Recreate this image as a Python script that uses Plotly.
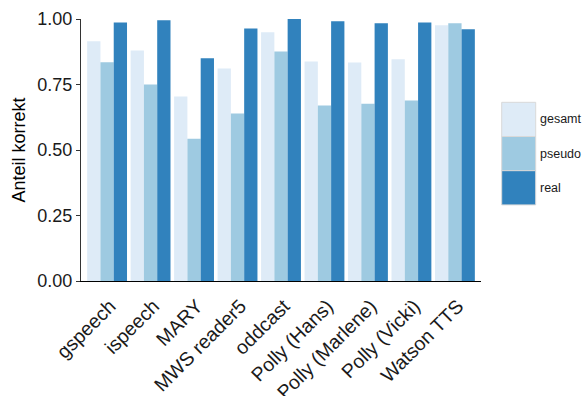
import plotly.graph_objects as go

categories = ["gspeech", "ispeech", "MARY", "MWS reader5", "oddcast",
              "Polly (Hans)", "Polly (Marlene)", "Polly (Vicki)", "Watson TTS"]
gesamt = [0.915, 0.880, 0.704, 0.811, 0.949, 0.838, 0.834, 0.846, 0.976]
pseudo = [0.835, 0.750, 0.543, 0.639, 0.876, 0.670, 0.677, 0.689, 0.984]
real = [0.987, 0.995, 0.850, 0.964, 1.000, 0.991, 0.984, 0.987, 0.961]
series_names = ["gesamt", "pseudo", "real"]
colors = ["#deebf7", "#9ecae1", "#3182bd"]
y_ticks = [0.0, 0.25, 0.5, 0.75, 1.0]
y_ticklabels = ["0.00", "0.25", "0.50", "0.75", "1.00"]

FONT = "Liberation Sans, Arial, sans-serif"

fig = go.Figure()
for name, vals, col in zip(series_names, [gesamt, pseudo, real], colors):
    fig.add_trace(go.Bar(x=list(range(len(categories))), y=vals, name=name,
                         marker=dict(color=col, line=dict(width=0)),
                         showlegend=False))

fig.update_layout(
    width=588, height=396,
    margin=dict(l=81, r=107, t=19, b=115, autoexpand=False),
    paper_bgcolor="white", plot_bgcolor="white",
    barmode="group", bargap=0.083, bargroupgap=0,
    font=dict(family=FONT, color="#1a1a1a"),
    xaxis=dict(
        range=[-0.6, 8.6], tickmode="array",
        tickvals=list(range(len(categories))), ticktext=categories,
        tickangle=-45, tickfont=dict(size=19.5, color="#1a1a1a"),
        showline=True, linecolor="black", linewidth=1.2,
        ticks="outside", ticklen=2, tickcolor="rgba(0,0,0,0)",
        ticklabelshift=3, ticklabelstandoff=3,
        showgrid=False, zeroline=False, automargin=False,
    ),
    yaxis=dict(
        range=[0, 1], tickmode="array", tickvals=y_ticks, ticktext=y_ticklabels,
        tickfont=dict(size=18, color="#1a1a1a"),
        showline=True, linecolor="#333333", linewidth=1.2,
        ticks="outside", ticklen=4, tickwidth=1.2, tickcolor="#333333",
        showgrid=False, zeroline=False, automargin=False,
        title=dict(text="Anteil korrekt", font=dict(size=18, color="black"), standoff=6),
    ),
)

# Manual legend (large key boxes as in reference)
key_x0, key_x1 = 501.7, 535.7
key_top = 102.3
key_h = 34.2
for i, (name, col) in enumerate(zip(series_names, colors)):
    y0 = key_top + i * key_h
    y1 = y0 + key_h
    fig.add_shape(type="rect", xref="paper", yref="paper",
                  x0=(key_x0 - 81) / 400, x1=(key_x1 - 81) / 400,
                  y0=1 - (y1 - 19) / 262, y1=1 - (y0 - 19) / 262,
                  fillcolor=col, line=dict(color="#d9d9d9", width=1), layer="above")
    fig.add_annotation(xref="paper", yref="paper",
                       x=(538 - 81) / 400, y=1 - ((y0 + y1) / 2 - 19) / 262,
                       text=name, showarrow=False, xanchor="left", yanchor="middle",
                       font=dict(size=12.5, color="#1a1a1a", family=FONT))

fig.write_html("out.html", config={"displayModeBar": False})

# remove default browser body margin so the figure sits at the page origin
with open("out.html", "r", encoding="utf-8") as f:
    html = f.read()
html = html.replace("<head>", "<head><style>html,body{margin:0;padding:0;overflow:hidden;}</style>", 1)
with open("out.html", "w", encoding="utf-8") as f:
    f.write(html)
